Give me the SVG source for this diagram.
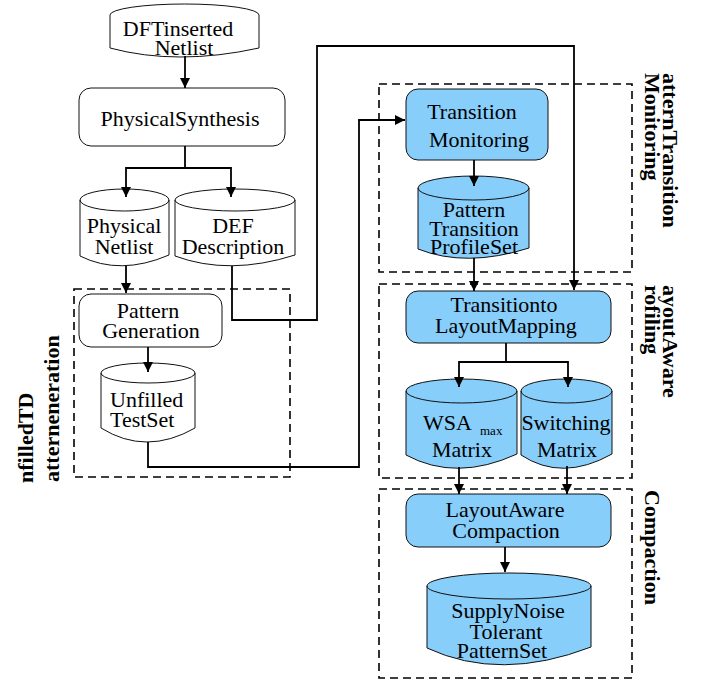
<svg xmlns="http://www.w3.org/2000/svg" width="702" height="681" viewBox="0 0 702 681">
  <style>
    .t { font-family: "Liberation Serif", "Times New Roman", serif; font-size: 22px; fill: #000; text-anchor: middle; }
    .ts { text-anchor: start; }
    .sub { font-size: 13px; text-anchor: start; }
    .lbl { font-family: "Liberation Serif", "Times New Roman", serif; font-size: 22px; font-weight: bold; fill: #000; }
    .box { fill: #fff; stroke: #111; stroke-width: 1; }
    .boxb { fill: #87cefa; stroke: #111; stroke-width: 1; }
    .rim { fill: none; stroke: #111; stroke-width: 1; }
    .grp { fill: none; stroke: #000; stroke-width: 1.6; stroke-dasharray: 8 5; }
    .wire { fill: none; stroke: #000; stroke-width: 1.8; }
    .arr { marker-end: url(#ah); }
  </style>
  <defs>
    <marker id="ah" markerUnits="userSpaceOnUse" markerWidth="11" markerHeight="10" refX="10" refY="5" orient="auto">
      <path d="M0,0 L10,5 L0,10 z" fill="#000"/>
    </marker>
  </defs>
  <rect width="702" height="681" fill="#fff"/>

  <!-- dashed stage frames -->
  <g id="stages">
    <rect class="grp" x="74" y="289" width="216" height="188"/>
    <rect class="grp" x="379" y="84" width="253" height="188"/>
    <rect class="grp" x="379" y="284" width="253" height="194"/>
    <rect class="grp" x="379" y="489" width="253" height="189"/>
    <text class="lbl" transform="translate(663,73) rotate(90)">atternTransition</text>
    <text class="lbl" transform="translate(645,73) rotate(90)">Monitoring</text>
    <text class="lbl" transform="translate(663,285) rotate(90)">ayoutAware</text>
    <text class="lbl" transform="translate(645,285) rotate(90)">rofiling</text>
    <text class="lbl" transform="translate(645,490) rotate(90)">Compaction</text>
    <text class="lbl" transform="translate(33,483) rotate(-90)">nfilledTD</text>
    <text class="lbl" transform="translate(59,482) rotate(-90)">atterneneration</text>
  </g>

  <g id="dft-netlist">
    <path class="box" d="M110,15 A74.5,11 0 0 1 259,15 V48 Q177,66 110,48 Z"/>
    <text class="t" x="178" y="36">DFTinserted</text>
    <text class="t" x="184" y="55">Netlist</text>
  </g>

  <g id="physical-synthesis">
    <rect class="box" x="79" y="88" width="206" height="58" rx="12"/>
    <text class="t" x="180" y="126">PhysicalSynthesis</text>
  </g>

  <g id="physical-netlist">
    <path class="box" d="M80,200 A44.5,11 0 0 1 169,200 V255 Q120,276 80,256 Z"/>
    <path class="rim" d="M80,200 A44.5,11 0 0 0 169,200"/>
    <text class="t" x="124" y="233">Physical</text>
    <text class="t" x="124" y="254">Netlist</text>
  </g>

  <g id="def-description">
    <path class="box" d="M175,200 A60,11 0 0 1 295,200 V255 Q229,276 175,256 Z"/>
    <path class="rim" d="M175,200 A60,11 0 0 0 295,200"/>
    <text class="t" x="233" y="233">DEF</text>
    <text class="t" x="233" y="254">Description</text>
  </g>

  <g id="pattern-generation">
    <rect class="box" x="79" y="294" width="143" height="53" rx="12"/>
    <text class="t" x="148" y="318">Pattern</text>
    <text class="t" x="151" y="338">Generation</text>
  </g>

  <g id="unfilled-testset">
    <path class="box" d="M101,373 A47,10 0 0 1 195,373 V428 Q146,456 101,428 Z"/>
    <path class="rim" d="M101,373 A47,10 0 0 0 195,373"/>
    <text class="t ts" x="110" y="407">Unfilled</text>
    <text class="t ts" x="110" y="427">TestSet</text>
  </g>

  <g id="transition-monitoring">
    <rect class="boxb" x="406" y="89" width="142" height="71" rx="12"/>
    <text class="t" x="472" y="119">Transition</text>
    <text class="t" x="479" y="147">Monitoring</text>
  </g>

  <g id="transition-profile-set">
    <path class="boxb" d="M418,188 A55.5,12 0 0 1 529,188 V248 Q466,268 418,249 Z"/>
    <path class="rim" d="M418,188 A55.5,12 0 0 0 529,188"/>
    <text class="t" x="474" y="217">Pattern</text>
    <text class="t" x="474" y="236">Transition</text>
    <text class="t" x="474" y="254">ProfileSet</text>
  </g>

  <g id="layout-mapping">
    <rect class="boxb" x="406" y="291" width="205" height="52" rx="12"/>
    <text class="t" x="504" y="312">Transitionto</text>
    <text class="t" x="506" y="333">LayoutMapping</text>
  </g>

  <g id="wsa-matrix">
    <path class="boxb" d="M406,391 A55.5,12 0 0 1 517,391 V454 Q456,482 406,455 Z"/>
    <path class="rim" d="M406,391 A55.5,12 0 0 0 517,391"/>
    <text class="t ts" x="423" y="430">WSA</text>
    <text class="t sub" x="480" y="435">max</text>
    <text class="t" x="462" y="457">Matrix</text>
  </g>

  <g id="switching-matrix">
    <path class="boxb" d="M521,391 A45.5,12 0 0 1 612,391 V454 Q562,482 521,455 Z"/>
    <path class="rim" d="M521,391 A45.5,12 0 0 0 612,391"/>
    <text class="t" x="566" y="430">Switching</text>
    <text class="t" x="567" y="457">Matrix</text>
  </g>

  <g id="layout-aware-compaction">
    <rect class="boxb" x="406" y="494" width="205" height="53" rx="12"/>
    <text class="t" x="505" y="517">LayoutAware</text>
    <text class="t" x="506" y="538">Compaction</text>
  </g>

  <g id="noise-tolerant-set">
    <path class="boxb" d="M427,586 A82,13 0 0 1 591,586 V647 Q500,682 427,648 Z"/>
    <path class="rim" d="M427,586 A82,13 0 0 0 591,586"/>
    <text class="t" x="508" y="618">SupplyNoise</text>
    <text class="t" x="506" y="639">Tolerant</text>
    <text class="t" x="502" y="658">PatternSet</text>
  </g>

  <!-- connectors, drawn last so arrowheads sit on top of the node outlines -->
  <g id="connectors">
    <path class="wire arr" d="M185,56 V88"/>
    <path class="wire arr" d="M185,146 V168 H126 V197"/>
    <path class="wire arr" d="M185,168 H231 V197"/>
    <path class="wire arr" d="M126,266 V293"/>
    <path class="wire arr" d="M232,266 V320 H317 V46 H574 V290"/>
    <path class="wire arr" d="M148,347 V372"/>
    <path class="wire arr" d="M148,442 V467 H359 V120 H405"/>
    <path class="wire arr" d="M474,160 V186"/>
    <path class="wire arr" d="M474,258 V291"/>
    <path class="wire arr" d="M506,343 V362 H459 V387"/>
    <path class="wire arr" d="M506,362 H568 V387"/>
    <path class="wire arr" d="M459,467 V494"/>
    <path class="wire arr" d="M567,466 V494"/>
    <path class="wire arr" d="M505,547 V572"/>
  </g>
</svg>
